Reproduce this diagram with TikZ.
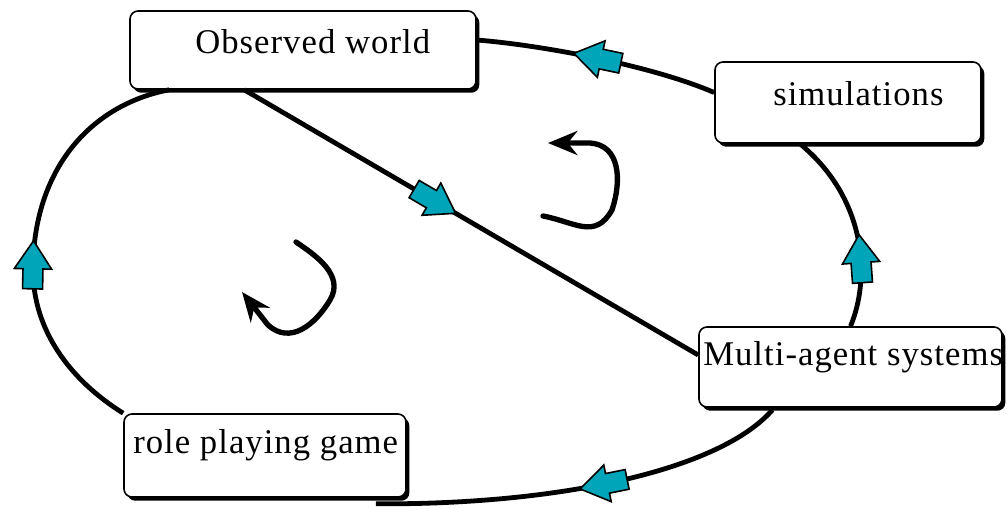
\documentclass[tikz,border=0pt]{standalone}
\usepackage{fontspec}
\setmainfont{Liberation Serif}[LetterSpace=3]
\usetikzlibrary{calc,shadows,decorations.markings,arrows.meta}
\definecolor{blk}{RGB}{0,165,185}
\tikzset{
 box/.style={draw=black, line width=1.2pt, rounded corners=6pt, fill=white,
   drop shadow={shadow xshift=2.5pt, shadow yshift=-2.8pt, opacity=1, fill=black}},
 lbl/.style={anchor=base west, inner sep=0pt, font=\fontsize{26}{30}\selectfont},
 conn/.style={line width=3.6pt},
 blockarrow/.style={postaction={decorate}, decoration={markings, mark=at position #1 with {\draw[line width=1.2pt, fill=blk, line join=miter] (18pt,0) -- (-3pt,14pt) -- (-3pt,7.5pt) -- (-18pt,7.5pt) -- (-18pt,-7.5pt) -- (-3pt,-7.5pt) -- (-3pt,-14pt) -- cycle;}}},
 curl/.style={line width=4pt, line cap=round, -{Stealth[length=22pt,width=18pt]}},
}
\begin{document}
\begin{tikzpicture}[x=0.75pt, y=-0.75pt]
\useasboundingbox (0,0) rectangle (1008,508);
% boxes
\node[box, minimum width=259.5pt, minimum height=58.5pt] (ow) at (303,50) {};
\node[box, minimum width=199.5pt, minimum height=60.75pt] (sim) at (848,102.5) {};
\node[box, minimum width=227.25pt, minimum height=60pt] (mas) at (850.5,367) {};
\node[box, minimum width=211.5pt, minimum height=62.25pt] (rpg) at (265,455.5) {};
% labels
\node[lbl] (owl) at (195,53) {Observed world};
\node[lbl] (siml) at (773,105) {simulations};
\node[lbl] (masl) at (703,365) {Multi-agent systems};
\node[lbl] (rpgl) at (133,453) {role playing game};
% connectors
\draw[conn, blockarrow=0.5] ($(sim.west)+(0,-10)$) .. controls (650,65) and (540,45) .. ($(ow.east)+(0,-10)$);
\draw[conn, blockarrow=0.34] (mas.north) .. controls (870,280) and (868,200) .. ($(sim.south)+(-48,0)$);
\draw[conn, blockarrow=0.45] ($(mas.south)+(-78,2)$) .. controls (720,470) and (560,505) .. ($(rpg.south east)+(-31,6)$);
\draw[conn, blockarrow=0.43] (rpg.north west) .. controls (70,380) and (33,330) .. (33,270) .. controls (33,170) and (90,105) .. ($(ow.south west)+(40,0)$);
\draw[conn, blockarrow=0.42] ($(ow.south west)+(115,0)$) -- ($(mas.west)+(0,-12)$);
% curled arrows
\draw[curl] (543,216) .. controls (575,222) and (595,240) .. (612,210) .. controls (622,180) and (620,145) .. (590,143) -- (548,143);
\draw[curl] (296,242) .. controls (315,255) and (345,275) .. (330,300) .. controls (315,325) and (290,345) .. (268,325) -- (242,292);
\end{tikzpicture}
\end{document}
